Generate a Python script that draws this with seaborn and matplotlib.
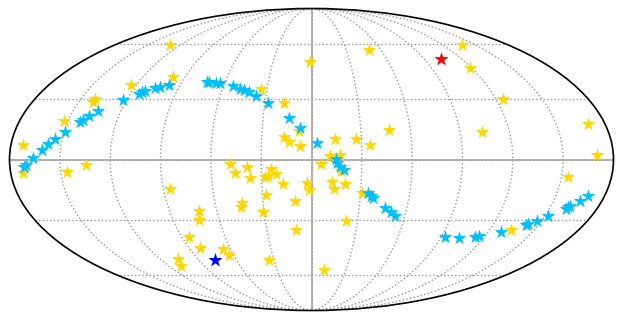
import numpy as np
import pandas as pd
import matplotlib
matplotlib.use("Agg")
import matplotlib.pyplot as plt
import seaborn as sns

# longitude / latitude in degrees
field_lon = [-129.9,-99.1,-123.7,-140.8,-140.8,-152.9,-172.5,49.8,-1.2,-33.8,-17.7,47.0,-7.4,-16.4,-13.5,-6.7,14.3,26.7,35.1,11.2,16.8,138.2,119.4,124.7,103.4,169.4,170.1,-172.4,-146.0,-134.3,-85.9,-71.2,-73.2,-85.1,-81.8,-105.5,-109.7,-48.7,-38.4,-45.5,-36.9,-24.3,-21.0,-27.9,-25.9,-17.4,-2.9,-1.7,-28.0,-10.2,-43.0,-44.4,-30.6,-10.4,-65.6,-63.2,-34.3,11.2,22.3,5.7,12.2,13.6,20.2,17.4,31.0,154.1,134.5]
field_lat = [59.9,41.5,37.2,29.9,28.3,18.8,7.2,56.7,49.8,34.8,27.9,14.5,14.0,11.1,8.3,6.7,9.9,9.8,6.9,1.5,2.0,59.9,46.4,29.6,13.5,17.4,2.0,-6.5,-5.9,-2.5,-14.3,-25.1,-29.6,-38.5,-44.4,-50.6,-54.9,-2.3,-3.8,-6.7,-8.8,-4.7,-7.2,-8.3,-7.8,-11.7,-11.3,-14.8,-17.3,-20.2,-21.1,-23.4,-25.7,-34.8,-45.3,-48.5,-51.5,-57.1,-30.5,-2.3,-10.9,-14.2,-12.0,-5.6,-16.4,-8.3,-35.1]
stream_lon = [-171.7,-170.4,-166.1,-160.9,-158.0,-154.5,-149.6,-142.7,-141.3,-138.3,-134.5,-122.4,-114.1,-112.7,-111.1,-105.7,-102.8,-97.5,-72.8,-71.0,-66.0,-63.1,-53.2,-48.4,-45.0,-41.7,-36.2,-27.9,-13.7,-6.8,3.3,14.4,15.0,17.0,19.4,34.7,36.3,38.0,46.4,50.5,54.0,92.5,102.5,113.3,116.0,129.1,141.9,142.7,146.8,152.4,160.2,161.1,161.8,166.2,169.7]
stream_lat = [-3.5,-2.8,0.9,4.7,7.4,9.9,13.4,18.4,19.3,21.2,23.6,29.4,32.5,33.2,33.8,35.3,36.0,37.1,38.8,38.8,38.3,38.0,36.4,35.1,34.3,33.2,31.3,27.9,20.2,15.5,7.8,0.1,-1.5,-3.5,-5.1,-16.4,-17.6,-18.6,-23.7,-25.9,-27.8,-38.5,-39.0,-38.5,-38.3,-36.0,-32.4,-32.0,-30.2,-27.9,-24.1,-23.4,-22.6,-20.2,-17.9]
red_lon = [103.4]
red_lat = [51.3]
blue_lon = [-76.8]
blue_lat = [-51.3]

sns.set_style("white")

fig = plt.figure(figsize=(6.23, 3.2), dpi=100)
ax = fig.add_axes([9 / 623, 9.5 / 320, 605 / 623, 302 / 320], projection="mollweide")

groups = [
    (field_lon, field_lat, "#FFD700", 105),
    (stream_lon, stream_lat, "#00BFFF", 105),
    (red_lon, red_lat, "#FF0000", 115),
    (blue_lon, blue_lat, "#0000FF", 115),
]
for lon, lat, col, size in groups:
    df = pd.DataFrame({"lon": np.radians(lon), "lat": np.radians(lat)})
    sns.scatterplot(data=df, x="lon", y="lat", ax=ax, marker="*", s=size,
                    color=col, linewidth=0, zorder=3)

ax.set_longitude_grid(30)
ax.set_latitude_grid(30)
ax.set_longitude_grid_ends(90)
ax.grid(True, color="#999999", linestyle=":", linewidth=1)
ax.axhline(0, color="#aaaaaa", linewidth=1.3, zorder=2)
ax.axvline(0, color="#aaaaaa", linewidth=1.3, zorder=2)
ax.set_xticklabels([])
ax.set_yticklabels([])
ax.set_xlabel("")
ax.set_ylabel("")
ax.spines["geo"].set_color("black")
ax.spines["geo"].set_linewidth(1.2)

fig.savefig("out.png", dpi=100)
